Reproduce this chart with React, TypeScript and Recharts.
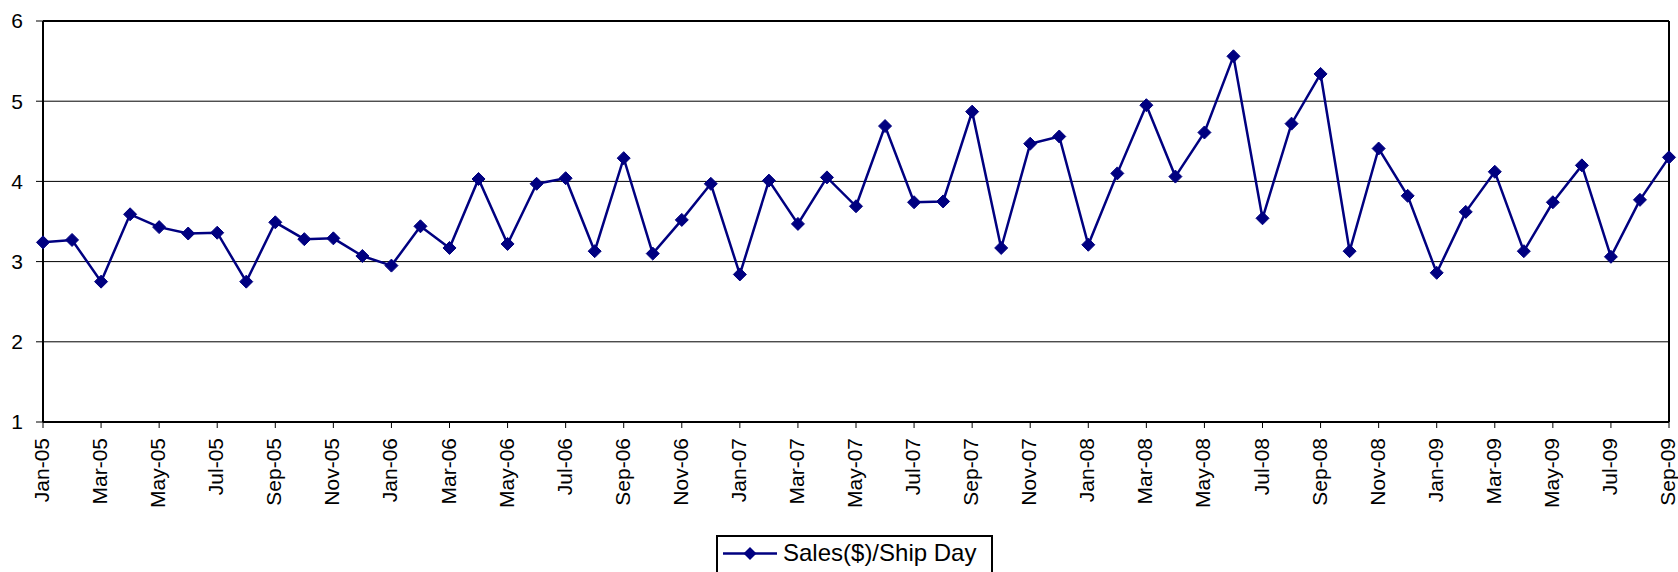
import React from "react";
import {
  LineChart,
  Line,
  XAxis,
  YAxis,
  CartesianGrid,
  Legend,
  ReferenceLine,
} from "recharts";

const months: string[] = [
  "Jan-05", "Feb-05", "Mar-05", "Apr-05", "May-05", "Jun-05", "Jul-05", "Aug-05", "Sep-05", "Oct-05", "Nov-05", "Dec-05",
  "Jan-06", "Feb-06", "Mar-06", "Apr-06", "May-06", "Jun-06", "Jul-06", "Aug-06", "Sep-06", "Oct-06", "Nov-06", "Dec-06",
  "Jan-07", "Feb-07", "Mar-07", "Apr-07", "May-07", "Jun-07", "Jul-07", "Aug-07", "Sep-07", "Oct-07", "Nov-07", "Dec-07",
  "Jan-08", "Feb-08", "Mar-08", "Apr-08", "May-08", "Jun-08", "Jul-08", "Aug-08", "Sep-08", "Oct-08", "Nov-08", "Dec-08",
  "Jan-09", "Feb-09", "Mar-09", "Apr-09", "May-09", "Jun-09", "Jul-09", "Aug-09", "Sep-09",
];

const salesPerShipDay: number[] = [
  3.24, 3.27, 2.75, 3.59, 3.43, 3.35, 3.36, 2.75, 3.49, 3.28, 3.29, 3.07,
  2.95, 3.44, 3.17, 4.03, 3.22, 3.97, 4.04, 3.13, 4.29, 3.10, 3.52, 3.97,
  2.84, 4.01, 3.47, 4.05, 3.69, 4.69, 3.74, 3.75, 4.87, 3.17, 4.47, 4.56,
  3.21, 4.10, 4.95, 4.06, 4.61, 5.56, 3.54, 4.72, 5.34, 3.13, 4.41, 3.82,
  2.86, 3.62, 4.12, 3.13, 3.74, 4.20, 3.06, 3.77, 4.30,
];

const yTicks: number[] = [1, 2, 3, 4, 5, 6];
const seriesName = "Sales($)/Ship Day";

const data = months.map((m, i) => ({ month: m, value: salesPerShipDay[i] }));

const FONT = "'Liberation Sans', Arial, Helvetica, sans-serif";
const NAVY = "#000080";

const XTick = (props: any) => {
  const { x, y, payload } = props;
  return (
    <g transform={`translate(${x},${y + 8}) rotate(-90)`}>
      <text
        x={0}
        y={6}
        textAnchor="end"
        fontSize={21}
        fontFamily={FONT}
        fill="#000"
      >
        {payload.value}
      </text>
    </g>
  );
};

const Diamond = (props: any) => {
  const { cx, cy, index } = props;
  if (cx == null || cy == null) return <g key={`d-${index}`} />;
  const r = 6.5;
  return (
    <path
      key={`d-${index}`}
      d={`M${cx},${cy - r} L${cx + r},${cy} L${cx},${cy + r} L${cx - r},${cy} Z`}
      fill={NAVY}
      stroke={NAVY}
      strokeWidth={1}
    />
  );
};

const LegendBox = (props: any) => {
  const { payload } = props;
  const item = payload && payload[0];
  const label = item ? item.value : seriesName;
  const color = item ? item.color : NAVY;
  return (
    <div
      style={{
        width: 277,
        height: 42,
        border: "2px solid #000",
        boxSizing: "border-box",
        background: "#fff",
      }}
    >
      <svg width={273} height={38} style={{ display: "block" }}>
        <line x1={5} y1={16.5} x2={59} y2={16.5} stroke={color} strokeWidth={2.5} />
        <path d="M32,10 L38.5,16.5 L32,23 L25.5,16.5 Z" fill={color} />
        <text x={65} y={24} fontSize={24} fontFamily={FONT} fill="#000">
          {label}
        </text>
      </svg>
    </div>
  );
};

export default function App() {
  return (
    <div style={{ position: "absolute", left: 0, top: 0, width: 1678, height: 572, background: "#fff" }}>
      <LineChart
        width={1678}
        height={572}
        data={data}
        margin={{ top: 21, right: 9, left: 0, bottom: 40 }}
      >
        <CartesianGrid horizontal={true} vertical={false} stroke="#000" strokeWidth={1} />
        <XAxis
          dataKey="month"
          interval={1}
          height={110}
          tick={<XTick />}
          tickSize={6}
          tickLine={{ stroke: "#000", strokeWidth: 1 }}
          axisLine={{ stroke: "#000", strokeWidth: 2 }}
          padding={{ left: 0, right: 0 }}
        />
        <YAxis
          type="number"
          domain={[1, 6]}
          ticks={yTicks}
          width={43}
          tickSize={7}
          tickMargin={13}
          tick={{ fontSize: 21, fontFamily: FONT, fill: "#000" }}
          tickLine={{ stroke: "#000", strokeWidth: 1 }}
          axisLine={{ stroke: "#000", strokeWidth: 2 }}
          allowDataOverflow={true}
        />
        <ReferenceLine y={6} stroke="#000" strokeWidth={2} ifOverflow="extendDomain" />
        <ReferenceLine x={months[months.length - 1]} stroke="#000" strokeWidth={2} />
        <Line
          type="linear"
          dataKey="value"
          name={seriesName}
          stroke={NAVY}
          strokeWidth={2.5}
          dot={<Diamond />}
          activeDot={false}
          isAnimationActive={false}
        />
        <Legend
          layout="horizontal"
          verticalAlign="middle"
          align="center"
          content={<LegendBox />}
          wrapperStyle={{ left: 716, top: 535, width: 277, height: 42, right: "auto", bottom: "auto" }}
        />
      </LineChart>
    </div>
  );
}
